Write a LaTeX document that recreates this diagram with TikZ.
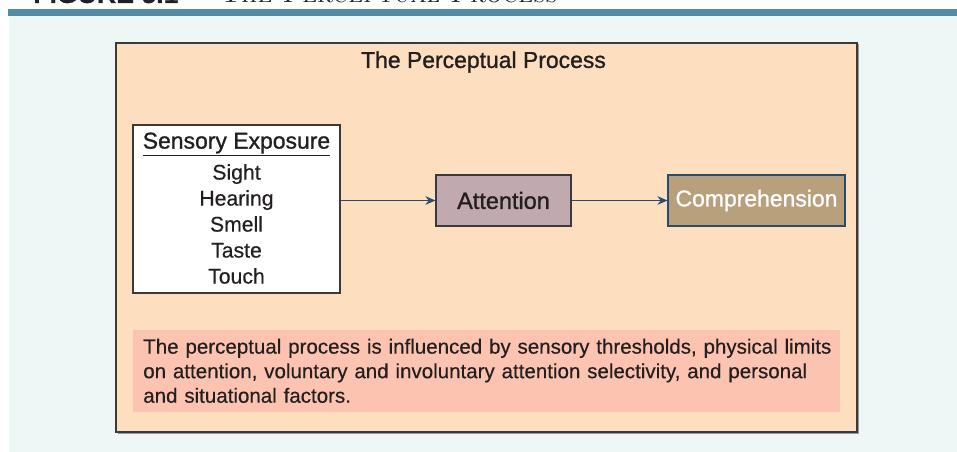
\documentclass[tikz,border=0pt]{standalone}
\usepackage{fontspec}
\newfontfamily\hv[FakeBold=0.35]{Liberation Sans}
\newfontfamily\hvm[FakeBold=1.1]{Liberation Sans}
\usetikzlibrary{arrows.meta}
\definecolor{barblue}{HTML}{548BA8}
\definecolor{mint}{HTML}{EEF7F5}
\definecolor{peach}{HTML}{FDDFC0}
\definecolor{mauve}{HTML}{C0A9AF}
\definecolor{tanbox}{HTML}{B9A07D}
\definecolor{navy}{HTML}{2A4A6F}
\definecolor{salmon}{HTML}{FBC3B0}
\definecolor{ink}{HTML}{231F20}
\definecolor{frame}{HTML}{3A3A3A}
\tikzset{
  box/.style={draw=frame, line width=0.9pt, inner sep=0pt, text=ink},
  txt/.style={inner sep=0pt, text=ink, font=\hv\fontsize{15.9}{19.5}\selectfont},
  head/.style={inner sep=0pt, text=ink, font=\hvm\bfseries\fontsize{17.2}{20}\selectfont},
  arr/.style={draw=navy, line width=0.9pt, -{Stealth[length=7.5pt,width=6.5pt]}},
}
\begin{document}
\begin{tikzpicture}[x=0.75pt,y=-0.75pt]
\useasboundingbox (0,0) rectangle (957,452);
\begin{scope}
\clip (0,0) rectangle (957,452);
% header (cut off)
\node[anchor=base west, inner sep=0pt, text=ink] (fig) at (33,3) {\hv\bfseries\fontsize{20}{20}\selectfont FIGURE 5.1};
\node[anchor=base west, inner sep=0pt, text=ink] (figt) at (220,3) {\fontsize{20}{20}\selectfont\textsc{The Perceptual Process}};
\fill[barblue] (8,9) rectangle (957,16);
\fill[mint] (9,16) rectangle (957,452);
\end{scope}
% shadow + main box
\fill[black!40] (117.5,44.5) rectangle (858.5,433.5);
\node[box, fill=peach, minimum width=555.75pt, minimum height=291.75pt, line width=1pt] (main) at (486.5,237.5) {};
\node[head, font=\hvm\fontsize{17.2}{20}\selectfont] (title) at (483.5,62) {The Perceptual Process};
% sensory box
\node[box, fill=white, minimum width=155.25pt, minimum height=126pt] (sens) at (236.5,209) {};
\node[head, font=\hvm\fontsize{17.2}{20}\selectfont] (headn) at (236.5,143) {Sensory Exposure};
\draw[ink, line width=0.9pt] ([yshift=-5pt]headn.base west) -- ([yshift=-5pt]headn.base east);
\node[txt, align=center] (list) at (236.5,224) {Sight\\Hearing\\Smell\\Taste\\Touch};
% attention / comprehension
\node[box, fill=mauve, minimum width=101.25pt, minimum height=38.25pt, head, font=\hvm\fontsize{17.6}{20}\selectfont, draw=frame, line width=0.9pt] (att) at (503.5,200.5) {Attention};
\node[box, fill=tanbox, draw=navy, minimum width=132.75pt, minimum height=38.25pt, head, font=\hvm\fontsize{17.2}{20}\selectfont, text=white, line width=0.9pt] (comp) at (756.5,200.5) {Comprehension};
\draw[arr] (sens.east |- att.west) -- (att.west);
\draw[arr] (att.east) -- (comp.west);
% note
\node[fill=salmon, minimum width=530.25pt, minimum height=61.5pt, inner sep=0pt] (note) at (486.5,371) {};
\node[txt, anchor=north west, align=left, text width=525pt, font=\hv\fontsize{15.4}{18.4}\selectfont] (notet) at (143,338.5) {The perceptual process is influenced by sensory thresholds, physical limits\\on attention, voluntary and involuntary attention selectivity, and personal\\and situational factors.};
\end{tikzpicture}
\end{document}
